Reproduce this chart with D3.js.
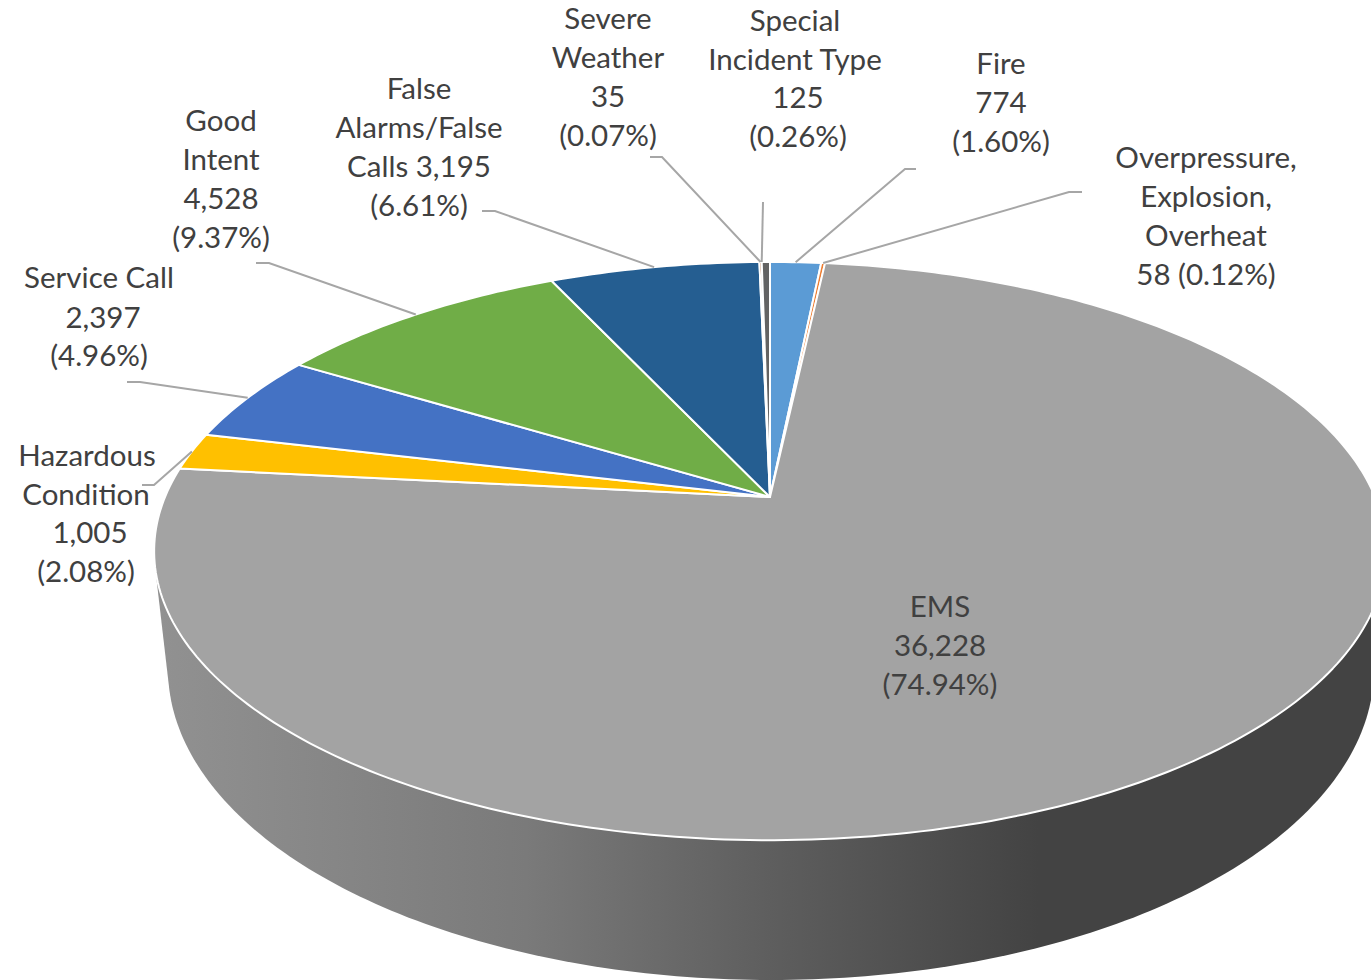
<!DOCTYPE html>
<html>
<head>
<meta charset="utf-8">
<script src="https://cdn.jsdelivr.net/npm/d3@7"></script>
<style>
html, body { margin: 0; padding: 0; background: #fff; overflow: hidden; }
svg { display: block; }
text { font-family: Lato, "Open Sans", sans-serif; font-size: 29.5px; fill: #404040; text-anchor: middle; }
</style>
</head>
<body>
<div id="chart"></div>
<script>
// clockwise from 12 o'clock
var categories = ["Fire", "Overpressure", "EMS", "Hazardous Condition", "Service Call", "Good Intent", "False Alarms", "Severe Weather", "Special Incident Type"];
var values = [774, 58, 36228, 1005, 2397, 4528, 3195, 35, 125];
var colors = ["#5b9bd5", "#ed7d31", "#a3a3a3", "#ffc000", "#4472c4", "#70ad47", "#255e91", "#9e480e", "#636363"];

var labelLines = [
  ["Fire", "774", "(1.60%)"],
  ["Overpressure,", "Explosion,", "Overheat", "58 (0.12%)"],
  ["EMS", "36,228", "(74.94%)"],
  ["Hazardous", "Condition", "1,005", "(2.08%)"],
  ["Service Call", "2,397", "(4.96%)"],
  ["Good", "Intent", "4,528", "(9.37%)"],
  ["False", "Alarms/False", "Calls 3,195", "(6.61%)"],
  ["Severe", "Weather", "35", "(0.07%)"],
  ["Special", "Incident Type", "125", "(0.26%)"]
];
var labelX = [
  [1001, 1001, 1001],
  [1206, 1206, 1206, 1206],
  [940, 940, 940],
  [87, 86, 90, 86],
  [99, 103, 99],
  [221, 221, 221, 221],
  [419, 419, 419, 419],
  [608, 608, 608, 608],
  [795, 795, 798, 798]
];
var labelY = [
  [64, 103, 142],
  [158, 197, 236, 275],
  [607, 646, 685],
  [456, 495, 533, 572],
  [278, 318, 356],
  [121, 160, 199, 238],
  [89, 128, 167, 206],
  [19, 58, 97, 136],
  [21, 60, 98, 137]
];
// where each leader line leaves its label, null = no leader
var leaderStart = [
  [[916, 169], [905, 169]],
  [[1082, 192], [1069, 192]],
  null,
  [[142, 485], [154, 485]],
  [[127, 382], [140, 382]],
  [[256, 263], [269, 263]],
  [[482, 211], [495, 211]],
  [[650, 157], [662, 157]],
  [[763, 202]]
];
// how far along its slice's arc each leader lands
var leaderAlong = [0.5, 0.5, 0.5, 0.5, 0.5, 0.5, 0.5, 0.5, 0];

var width = 1371,
  height = 980;

// pie plate seen in perspective: a circle pushed through a projective map
var cx = 770, cy = 497,
  a = 605, b = 279, k = 0.187;

function project(angle) {
  var s = Math.sin(angle), t = -Math.cos(angle);
  var w = 1 - k * t;
  return [cx + a * s / w, cy + b * t / w];
}

var svg = d3.select("#chart")
  .append("svg")
  .attr("width", width)
  .attr("height", height);

var defs = svg.append("defs");
var grad = defs.append("linearGradient")
  .attr("id", "wall")
  .attr("gradientUnits", "userSpaceOnUse")
  .attr("x1", 160).attr("x2", 1380)
  .attr("y1", 0).attr("y2", 0);
grad.selectAll("stop")
  .data([[0, "#919191"], [0.3, "#7a7a7a"], [0.5, "#5e5e5e"], [0.72, "#434343"], [1, "#434343"]])
  .enter().append("stop")
  .attr("offset", function(d) { return d[0]; })
  .attr("stop-color", function(d) { return d[1]; });

var line = d3.line();
var sampleAngles = d3.range(0, 360, 1).map(function(d) { return d * Math.PI / 180; });

// wall: hull of the top rim and the lower rim
var rim = sampleAngles.map(project);
var lower = sampleAngles.map(function(t) {
  return [771 + 603 * Math.sin(t), 669 + 311 * Math.cos(t)];
});
svg.append("path")
  .attr("d", "M" + d3.polygonHull(rim.concat(lower)).join("L") + "Z")
  .attr("fill", "url(#wall)");

var pie = d3.pie().sort(null).value(function(d) { return d; });
var arcs = pie(values);

function slicePath(d) {
  var n = Math.max(2, Math.ceil((d.endAngle - d.startAngle) * 60));
  var pts = [[cx, cy]];
  d3.range(n + 1).forEach(function(i) {
    pts.push(project(d.startAngle + (d.endAngle - d.startAngle) * i / n));
  });
  return line(pts) + "Z";
}

svg.selectAll(".slice")
  .data(arcs)
  .enter().append("path")
  .attr("class", "slice")
  .attr("d", slicePath)
  .attr("fill", function(d, i) { return colors[i]; })
  .attr("stroke", "#fff")
  .attr("stroke-width", 2)
  .attr("stroke-linejoin", "round");

svg.selectAll(".leader")
  .data(arcs.filter(function(d) { return leaderStart[d.index]; }))
  .enter().append("path")
  .attr("class", "leader")
  .attr("d", function(d) {
    var end = project(d.startAngle + (d.endAngle - d.startAngle) * leaderAlong[d.index]);
    return line(leaderStart[d.index].concat([end]));
  })
  .attr("fill", "none")
  .attr("stroke", "#a6a6a6")
  .attr("stroke-width", 2);

var labels = svg.selectAll(".label")
  .data(labelLines)
  .enter().append("g")
  .attr("class", "label");

labels.each(function(lines, i) {
  d3.select(this).selectAll("text")
    .data(lines)
    .enter().append("text")
    .attr("x", function(d, j) { return labelX[i][j]; })
    .attr("y", function(d, j) { return labelY[i][j]; })
    .attr("dy", "0.35em")
    .text(function(d) { return d; });
});
</script>
</body>
</html>
